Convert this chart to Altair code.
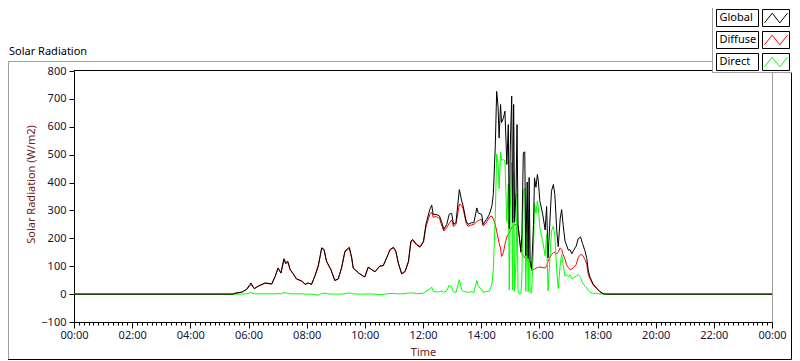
import altair as alt
import pandas as pd

# ---------------- data ----------------
times = ["00:00","05:28","05:32","05:46","05:56","06:03","06:05","06:12","06:20","06:34",
         "06:48","06:55","07:01","07:07","07:13","07:17","07:21","07:26","07:32","07:39",
         "07:50","07:57","08:03","08:10","08:17","08:24","08:31","08:36","08:41","08:50",
         "08:58","09:05","09:12","09:19","09:28","09:33","09:36","09:47","09:57","10:00",
         "10:07","10:14","10:21","10:31","10:38","10:45","10:52","10:59","11:04","11:09",
         "11:16","11:23","11:30","11:35","11:39","11:47","11:54","12:01","12:06","12:14",
         "12:18","12:21","12:27","12:34","12:39","12:43","12:49","12:54","12:59","13:03",
         "13:08","13:15","13:20","13:23","13:29","13:33","13:40","13:45","13:51","13:54",
         "14:01","14:04","14:11","14:17","14:22","14:25","14:29","14:32","14:35","14:37",
         "14:40","14:42","14:46","14:49","14:53","14:56","14:58","15:00","15:03","15:05",
         "15:07","15:09","15:12","15:14","15:16","15:19","15:22","15:24","15:27","15:30",
         "15:32","15:35","15:37","15:39","15:41","15:44","15:48","15:50","15:53","15:56",
         "15:58","16:01","16:07","16:12","16:15","16:18","16:25","16:29","16:32","16:36",
         "16:39","16:43","16:46","16:49","16:53","16:56","17:00","17:03","17:07","17:10",
         "17:16","17:20","17:25","17:29","17:34","17:38","17:41","17:45","17:51","17:58",
         "18:05","18:12","18:19","24:00"]

global_rad = [0,0,3,7,17,35,40,20,29,40,
              37,64,94,76,127,112,118,88,74,55,
              47,35,40,35,64,100,166,160,118,88,
              49,54,94,154,168,130,94,76,64,62,
              97,88,80,100,102,130,160,168,154,112,
              73,82,118,190,196,178,170,190,250,303,
              319,286,286,280,256,232,250,286,290,250,
              256,375,333,315,262,250,256,256,309,291,
              286,250,268,286,315,357,524,727,668,560,
              680,615,632,656,465,608,235,524,710,257,
              680,258,369,608,252,200,152,214,507,510,
              138,402,128,418,120,90,250,417,383,429,
              405,335,286,230,314,130,369,393,357,226,
              170,270,303,250,190,176,157,160,145,155,
              172,198,205,182,156,128,83,59,36,22,
              9,1,0,0]

diffuse_rad = [0,0,3,7,16,30,35,19,28,39,
               36,63,92,75,122,108,115,87,73,54,
               46,35,40,35,66,104,164,157,116,88,
               49,54,94,152,164,127,93,76,64,62,
               96,88,80,102,103,129,158,166,152,111,
               72,80,114,186,192,176,168,186,240,285,
               294,276,278,272,244,226,238,254,266,242,
               250,323,318,305,254,243,248,250,260,264,
               268,244,258,276,280,270,250,225,200,182,
               165,135,150,178,205,214,220,228,238,242,
               245,248,250,248,242,200,150,145,138,130,
               128,122,120,118,115,85,88,90,93,95,
               96,97,95,94,100,118,142,148,150,145,
               150,166,160,142,125,106,95,88,90,94,
               106,130,142,140,125,106,70,53,33,20,
               8,1,0,0]

direct_rad = [0,0,0,0,1,5,5,1,1,1,
              1,1,2,1,5,4,3,1,1,1,
              1,0,0,0,-2,-4,2,3,2,0,
              0,0,0,2,4,3,1,0,0,0,
              1,0,0,-2,-1,1,2,2,2,1,
              1,2,4,4,4,2,2,4,10,18,
              25,10,8,8,12,6,12,32,24,8,
              6,52,15,10,8,7,8,6,49,27,
              18,6,10,10,35,87,274,502,468,378,
              510,480,482,478,260,394,15,296,472,15,
              435,10,119,360,10,0,2,69,369,380,
              10,280,8,300,5,5,162,327,290,334,
              309,238,190,136,214,12,226,244,207,80,
              20,104,142,106,64,70,62,70,55,58,
              64,70,60,40,29,22,13,6,3,2,
              1,0,0,0]

series_names = ["Global", "Diffuse", "Direct"]
series_colors = {"Global": "#000000", "Diffuse": "#ff0000", "Direct": "#00ff00"}
draw_order = ["Diffuse", "Direct", "Global"]

x_minor_ticks = list(range(0, 1441, 10))      # minutes, every 10 min
y_ticks = list(range(-100, 801, 100))

chart_title = "Solar Radiation"
x_title = "Time"
y_title = "Solar Radiation (W/m2)"

assert len(times) == len(global_rad) == len(diffuse_rad) == len(direct_rad)

# ---------------- build table ----------------
df = pd.DataFrame({"time": times, "Global": global_rad,
                   "Diffuse": diffuse_rad, "Direct": direct_rad})
df["minutes"] = [int(t[:2]) * 60 + int(t[3:]) for t in times]
long_df = df.melt(id_vars=["time", "minutes"], value_vars=series_names,
                  var_name="series", value_name="value")

# ---------------- layout (plot-area pixels) ----------------
W, H = 698, 251
PAD = {"left": 66, "top": 63, "right": 20, "bottom": 39}
RIGHT = W + PAD["right"]          # right edge of the whole chart, plot-relative
FONT = "Noto Sans"
LABEL_COLOR = "#14143a"
TITLE_COLOR = "#6e1c1c"

x_axis = alt.Axis(
    values=x_minor_ticks,
    labelExpr="datum.value % 120 === 0 ? timeFormat(datetime(2000, 0, 1, 0, datum.value), '%H:%M') : ''",
    tickSize={"condition": {"test": "datum.value % 120 === 0", "value": 6}, "value": 3},
    labelOverlap=False, labelFlush=False, grid=False,
    domainColor="#000000", tickColor="#000000", tickWidth=1,
    labelFont=FONT, labelFontSize=11, labelColor=LABEL_COLOR, labelPadding=1,
    title=x_title, titleFont=FONT, titleFontSize=11, titleFontWeight="normal",
    titleColor=TITLE_COLOR, titlePadding=6,
)
y_axis = alt.Axis(
    values=y_ticks, tickSize=5, grid=False, labelFlush=False,
    domainColor="#000000", tickColor="#000000",
    labelFont=FONT, labelFontSize=11, labelColor=LABEL_COLOR, labelPadding=3,
    title=y_title, titleFont=FONT, titleFontSize=11, titleFontWeight="normal",
    titleColor=TITLE_COLOR, titleX=-38, titleY=113,
)

x_enc = alt.X("minutes:Q", scale=alt.Scale(domain=[0, 1440], nice=False, zero=False), axis=x_axis)
y_enc = alt.Y("value:Q", scale=alt.Scale(domain=[-100, 800], nice=False, zero=False), axis=y_axis)

base = alt.Chart(long_df)
line_layers = [
    base.transform_filter(alt.datum.series == s)
        .mark_line(color=series_colors[s], strokeWidth=1)
        .encode(x=x_enc, y=y_enc, order="minutes:Q")
    for s in draw_order
]

one = pd.DataFrame({"k": [0]})

def rule(x1, x2, y1, y2, color):
    return alt.Chart(one).mark_rule(color=color, strokeWidth=1).encode(
        x=alt.value(x1), x2=alt.value(x2), y=alt.value(y1), y2=alt.value(y2))

LEG_L = 638.5                     # legend panel left edge
deco = []
# plot-area border (top black, right gray)
deco.append(rule(0, W, -0.5, -0.5, "#000000"))
deco.append(rule(W + 0.5, W + 0.5, 0, H, "#a0a0a0"))
# outer panel frame
deco.append(rule(-66, LEG_L, -9.5, -9.5, "#a0a0a0"))
deco.append(rule(-65.5, -65.5, -9.5, 288.5, "#a0a0a0"))
deco.append(rule(-66, RIGHT - 0.5, 288.5, 288.5, "#000000"))
deco.append(rule(RIGHT - 0.5, RIGHT - 0.5, 1, 288.5, "#000000"))

# panel caption
deco.append(alt.Chart(one).mark_text(
    text=chart_title, font=FONT, fontSize=11, color="#000000",
    align="left", baseline="alphabetic").encode(x=alt.value(-65), y=alt.value(-16)))

# legend background
deco.append(alt.Chart(one).mark_rect(fill="#ffffff", strokeWidth=0).encode(
    x=alt.value(LEG_L), x2=alt.value(RIGHT), y=alt.value(-63), y2=alt.value(1.5)))
deco.append(rule(LEG_L, LEG_L, -63, 1.5, "#a0a0a0"))
deco.append(rule(LEG_L, RIGHT, 1.5, 1.5, "#a0a0a0"))

legend_row_top = [-61.5, -39.5, -17.5]
for name, top in zip(series_names, legend_row_top):
    bottom = top + 17
    mid = (top + bottom) / 2
    deco.append(alt.Chart(one).mark_rect(fill="#ffffff", stroke="#000000", strokeWidth=1).encode(
        x=alt.value(642.5), x2=alt.value(684.5), y=alt.value(top), y2=alt.value(bottom)))
    deco.append(alt.Chart(one).mark_rect(fill="#ffffff", stroke="#000000", strokeWidth=1).encode(
        x=alt.value(688.5), x2=alt.value(715.5), y=alt.value(top), y2=alt.value(bottom)))
    deco.append(alt.Chart(one).mark_text(
        text=name, font=FONT, fontSize=11, color="#000000",
        align="left", baseline="middle").encode(x=alt.value(645.5), y=alt.value(mid)))
    deco.append(alt.Chart(one).mark_point(
        shape="M-1,0.42L-0.33,-0.42L0.33,0.42L1,-0.42", filled=False,
        stroke=series_colors[name], strokeWidth=1, size=529, opacity=1).encode(
        x=alt.value(702), y=alt.value(mid)))

chart = alt.layer(*line_layers, *deco).properties(
    width=W, height=H,
    padding=PAD,
    autosize=alt.AutoSizeParams(type="none"),
    background="#ffffff",
).configure_view(stroke=None)

chart.save("out.html", embed_options={"renderer": "svg", "actions": False})
